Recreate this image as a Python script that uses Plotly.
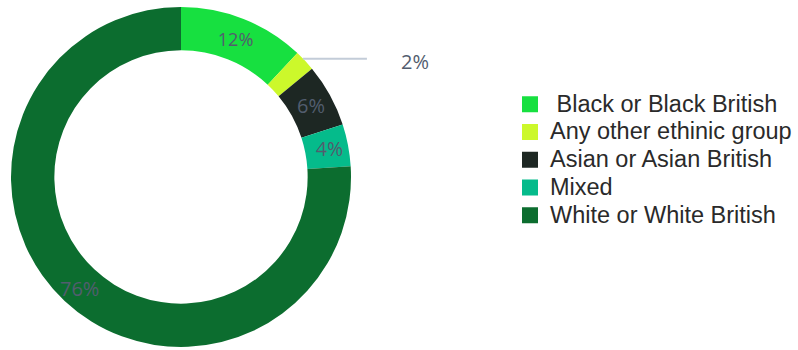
import math
import plotly.graph_objects as go

# Ethnic group breakdown
categories = [
    "Black or Black British",
    "Any other ethinic group",
    "Asian or Asian British",
    "Mixed",
    "White or White British",
]
legend_names = ["\u00a0Black or Black British"] + categories[1:]
shares = [12, 2, 6, 4, 76]
colors = ["#17e040", "#ccf82b", "#1d2723", "#05bb8b", "#0c6d2f"]
# slices whose labels plotly places itself; the others get annotations below
text_positions = ["inside", "none", "inside", "inside", "none"]

W, H = 798, 350
M_L, M_R, M_T, M_B = 0, 0, 7, 3
CX, CY, R = 181, 177, 170  # donut centre / radius in pixels
HOLE = 0.745
plot_w, plot_h = W - M_L - M_R, H - M_T - M_B

LABEL_FONT = dict(family="Open Sans", size=20, color="#525d6e")

fig = go.Figure()

fig.add_trace(go.Pie(
    labels=categories,
    values=shares,
    hole=HOLE,
    sort=False,
    direction="clockwise",
    rotation=0,
    marker=dict(colors=colors, line=dict(width=0)),
    texttemplate="%{value}%",
    textposition=text_positions,
    insidetextorientation="horizontal",
    textfont=LABEL_FONT,
    domain=dict(x=[(CX - R - M_L) / plot_w, (CX + R - M_L) / plot_w], y=[0, 1]),
    showlegend=False,
    hoverinfo="label+percent",
))

# Legend swatches (entry text slightly larger than the row pitch font)
for name, col in zip(legend_names, colors):
    fig.add_trace(go.Scatter(
        x=[None], y=[None], mode="markers",
        name=f"<span style='font-size:23.5px'>{name}</span>",
        marker=dict(symbol="square", size=16, color=col),
        hoverinfo="skip",
    ))

total = sum(shares)


def slice_point(i, radius):
    """Paper coordinates of slice i's mid-angle at the given pixel radius."""
    mid_frac = (sum(shares[:i]) + shares[i] / 2) / total
    theta = 2 * math.pi * mid_frac
    px = CX + radius * math.sin(theta)
    py = CY - radius * math.cos(theta)
    return (px - M_L) / plot_w, (H - M_B - py) / plot_h


# Outside label with leader line for the small slice
ax, ay = slice_point(1, R)
fig.add_shape(
    type="line", xref="paper", yref="paper",
    xsizemode="pixel", ysizemode="pixel",
    xanchor=ax, yanchor=ay,
    x0=-2, x1=62, y0=2, y1=2,
    line=dict(color="#c3ccd8", width=2),
)
fig.add_annotation(
    x=ax, y=ay, xref="paper", yref="paper",
    text=f"{shares[1]}%", showarrow=False,
    xanchor="left", yanchor="middle", xshift=94, yshift=-1,
    font=LABEL_FONT,
)

# Label of the large slice, centred in the ring at its mid-angle
bx, by = slice_point(4, R * (1 + HOLE) / 2)
fig.add_annotation(
    x=bx, y=by, xref="paper", yref="paper",
    text=f"{shares[4]}%", showarrow=False,
    xanchor="center", yanchor="middle", yshift=-3,
    font=LABEL_FONT,
)

fig.update_layout(
    width=W, height=H,
    margin=dict(l=M_L, r=M_R, t=M_T, b=M_B, autoexpand=False),
    paper_bgcolor="white", plot_bgcolor="white",
    xaxis=dict(visible=False), yaxis=dict(visible=False),
    legend=dict(
        x=(510 - M_L) / plot_w, xanchor="left",
        y=(H - M_B - 160) / plot_h, yanchor="middle",
        font=dict(family="Liberation Sans", size=19, color="#2a2a2a"),
        itemsizing="trace", bgcolor="rgba(0,0,0,0)",
    ),
)

fig.write_html("out.html")
